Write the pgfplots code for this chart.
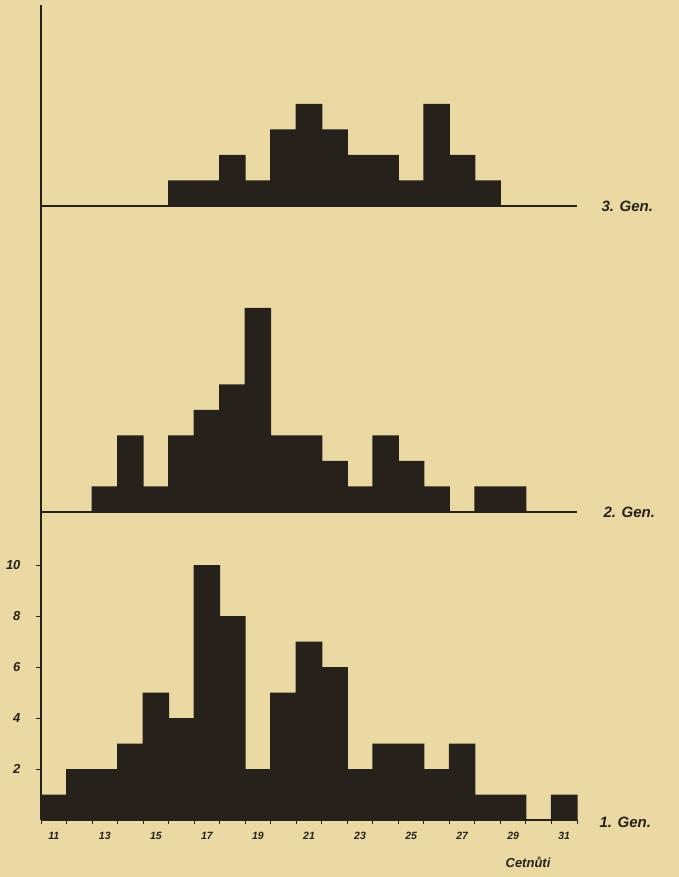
\documentclass[border=0pt]{standalone}
\usepackage{fontspec}
\setmainfont{Liberation Sans}
\usepackage{pgfplots}
\pgfplotsset{compat=1.18}
\definecolor{paper}{RGB}{234,217,162}
\definecolor{ink}{RGB}{38,34,27}
\pgfplotsset{
  gen/.style={
    scale only axis, width=536pt, xmin=10.5, xmax=31.5, ymin=0,
    axis x line*=bottom, axis y line*=left,
    axis line style={-, ink, line width=1.6pt},
    ybar, bar width=1.04,
    anchor=south west,
    clip=false,
  },
  barstyle/.style={fill=ink, draw=none},
}
\begin{document}
\begin{tikzpicture}[x=1pt,y=1pt]
\fill[paper] (0,0) rectangle (679,877);
% 1. Gen
\begin{axis}[gen, at={(41pt,57pt)}, height=308pt, ymax=12.08,
  xtick={11,13,...,31}, major x tick style={draw=none},
  minor xtick={10.5,11.5,...,31.5}, minor tick length=4pt,
  ytick={2,4,...,10}, major tick length=5pt, tick align=outside,
  tick style={ink, line width=1pt},
  /pgf/number format/assume math mode=true,
  xticklabel style={font=\fontsize{10.5}{10.5}\selectfont\bfseries\itshape, text=ink, yshift=-4pt},
  yticklabel style={font=\fontsize{13}{13}\selectfont\bfseries\itshape, text=ink, xshift=-12pt},
  ]
\addplot[barstyle] coordinates {
 (11,1) (12,2) (13,2) (14,3) (15,5) (16,4) (17,10) (18,8) (19,2) (20,5)
 (21,7) (22,6) (23,2) (24,3) (25,3) (26,2) (27,3) (28,1) (29,1) (31,1)};
\end{axis}
% 2. Gen
\begin{axis}[gen, at={(41pt,365pt)}, height=306pt, ymax=12,
  xtick=\empty, ytick=\empty]
\addplot[barstyle] coordinates {
 (13,1) (14,3) (15,1) (16,3) (17,4) (18,5) (19,8) (20,3) (21,3) (22,2)
 (23,1) (24,3) (25,2) (26,1) (28,1) (29,1)};
\end{axis}
% 3. Gen
\begin{axis}[gen, at={(41pt,671pt)}, height=201pt, ymax=7.88,
  xtick=\empty, ytick=\empty]
\addplot[barstyle] coordinates {
 (16,1) (17,1) (18,2) (19,1) (20,3) (21,4) (22,3) (23,2) (24,2) (25,1)
 (26,4) (27,2) (28,1)};
\end{axis}
\node[text=ink, font=\fontsize{15}{15}\selectfont\bfseries\itshape, anchor=west] at (596,55) {1. Gen.};
\node[text=ink, font=\fontsize{15}{15}\selectfont\bfseries\itshape, anchor=west] at (600,365) {2. Gen.};
\node[text=ink, font=\fontsize{15}{15}\selectfont\bfseries\itshape, anchor=west] at (598,671) {3. Gen.};
\node[text=ink, font=\fontsize{13}{13}\selectfont\bfseries\itshape] at (528,15) {Cetnůti};
\end{tikzpicture}
\end{document}
